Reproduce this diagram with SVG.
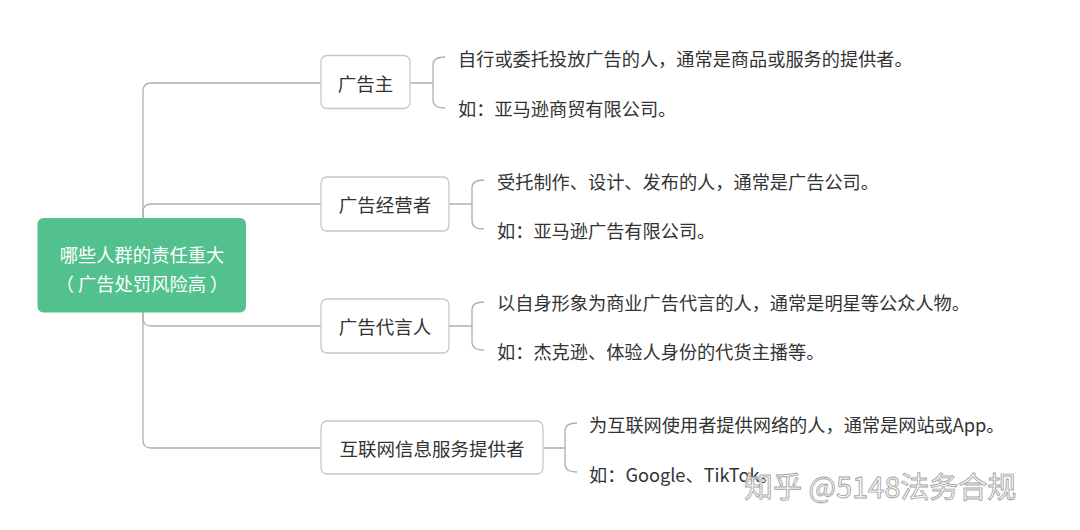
<svg xmlns="http://www.w3.org/2000/svg" width="1080" height="530" viewBox="0 0 1080 530">
<style>
text{font-family:"Noto Sans CJK SC","Microsoft YaHei",sans-serif;dominant-baseline:central}
.ln{fill:none;stroke:#b0b0b0;stroke-width:1.3}
.box{fill:#fff;stroke:#c8c8c8;stroke-width:1.3}
.nt{font-size:18.5px;fill:#333;text-anchor:middle}
.lf{font-size:18.2px;fill:#333}
.rt{font-size:18.3px;fill:#fff;text-anchor:middle}
.wm{font-size:29px;fill:#fff;stroke:#9a9a9a;stroke-width:0.9;opacity:0.9}
</style>
<rect width="1080" height="530" fill="#fff"/>
<g id="connectors">
<path class="ln" d="M143,265 V91 Q143,83 151,83 H321"/>
<path class="ln" d="M143,265 V212 Q143,204 151,204 H321"/>
<path class="ln" d="M143,265 V318 Q143,326 151,326 H321"/>
<path class="ln" d="M143,265 V440 Q143,448 151,448 H321"/>
<path class="ln" d="M410,83 H433 M445,57 Q433,57 433,65 V100 Q433,108 445,108"/>
<path class="ln" d="M449,204 H472 M484,180 Q472,180 472,188 V221 Q472,229 484,229"/>
<path class="ln" d="M449,326 H472 M484,302 Q472,302 472,310 V342 Q472,350 484,350"/>
<path class="ln" d="M543,448 H565 M577,423 Q565,423 565,431 V464 Q565,472 577,472"/>
</g>
<g id="root">
<rect x="37.5" y="218" width="208.5" height="94.5" rx="6" fill="#52c18d"/>
<text class="rt" x="142" y="254">哪些人群的责任重大</text>
<text class="rt" x="142" y="283">（ 广告处罚风险高 ）</text>
</g>
<g id="n1">
<rect class="box" x="321" y="55.5" width="89" height="53" rx="6"/>
<text class="nt" x="365.5" y="83">广告主</text>
</g>
<g id="n2">
<rect class="box" x="321" y="177" width="128" height="54" rx="6"/>
<text class="nt" x="385" y="204">广告经营者</text>
</g>
<g id="n3">
<rect class="box" x="321" y="299" width="128" height="54" rx="6"/>
<text class="nt" x="385" y="326">广告代言人</text>
</g>
<g id="n4">
<rect class="box" x="321" y="421" width="222" height="53" rx="6"/>
<text class="nt" x="432" y="448">互联网信息服务提供者</text>
</g>
<g id="leaves">
<text class="lf" x="458" y="58">自行或委托投放广告的人，通常是商品或服务的提供者。</text>
<text class="lf" x="458" y="108">如：亚马逊商贸有限公司。</text>
<text class="lf" x="497" y="181">受托制作、设计、发布的人，通常是广告公司。</text>
<text class="lf" x="497" y="230">如：亚马逊广告有限公司。</text>
<text class="lf" x="497" y="302">以自身形象为商业广告代言的人，通常是明星等公众人物。</text>
<text class="lf" x="497" y="351">如：杰克逊、体验人身份的代货主播等。</text>
<text class="lf" x="589" y="424">为互联网使用者提供网络的人，通常是网站或App。</text>
<text class="lf" x="589" y="474">如：Google、TikTok。</text>
</g>
<text class="wm" x="744" y="485">知乎 @5148法务合规</text>
</svg>
